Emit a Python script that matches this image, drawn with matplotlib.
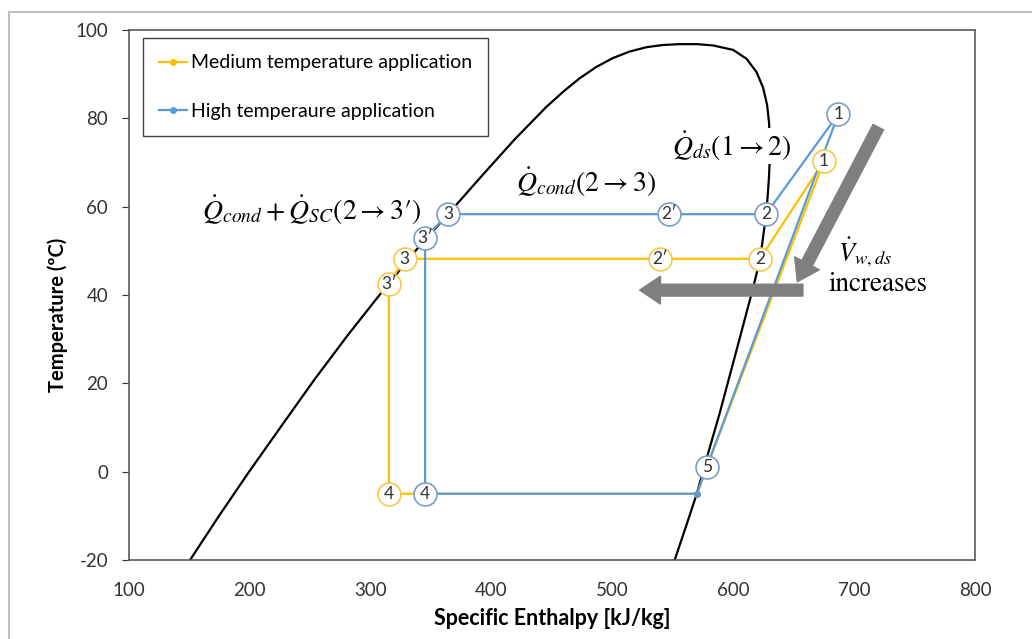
import matplotlib
matplotlib.use('Agg')
import matplotlib.pyplot as plt
from matplotlib.patches import FancyArrowPatch, Rectangle

plt.rcParams['font.family'] = ['Lato', 'DejaVu Sans']
plt.rcParams['mathtext.fontset'] = 'stix'
plt.rcParams['axes.unicode_minus'] = False

# saturation dome
dome_h = [150.5, 174.5, 199.4, 226, 253.3, 281, 309, 337, 364, 392, 419, 445,
          460, 473, 486.5, 500, 514, 528, 541.6, 555.7, 570, 583.3, 599.8, 610.9,
          619.2, 624.7, 628, 629.6, 630.2, 630.2, 629.5, 628.2, 626.3, 623.8, 620.3, 616,
          602.5, 588.8, 579, 569.8, 560.5, 551.5]
dome_T = [-20, -10, 0, 10.3, 20.8, 30.9, 40.6, 50.0, 58.3, 67.0, 75.2, 82.5,
          86.2, 89.1, 91.6, 93.6, 95.1, 96.1, 96.6, 96.8, 96.8, 96.5, 95.5, 93.5,
          90.5, 86.9, 83.0, 79, 75, 71, 66.5, 61.5, 56.5, 51.3, 46, 41.2,
          27.3, 13.3, 4, -5, -12.7, -20]

# cycle points: 1, 2, 2', 3, 3', 4, evaporator exit, 5, back to 1
h_high = [687, 627, 547, 364, 345, 345, 570, 578, 687]
T_high = [81, 58.3, 58.3, 58.3, 52.9, -5, -5, 1, 81]
lab_high = ['1', '2', '2′', '3', '3′', '4', '', '5', '']

h_med = [675, 622, 539, 328, 315, 315, 570, 578, 675]
T_med = [70.3, 48.2, 48.2, 48.2, 42.5, -5, -5, 1, 70.3]
lab_med = ['1', '2', '2′', '3', '3′', '4', '', '', '']

c_med = '#FFC000'
c_high = '#5B9BD5'

fig = plt.figure(figsize=(10.32, 6.39), dpi=100)
ax = fig.add_axes([129/1032, 1-560/639, 846/1032, 530/639])

ax.plot(dome_h, dome_T, color='black', lw=1.6, zorder=2, solid_joinstyle='round')

ax.plot(h_med, T_med, color=c_med, lw=1.6, marker='o', ms=4,
        label='Medium temperature application', zorder=3)
ax.plot(h_high, T_high, color=c_high, lw=1.6, marker='o', ms=4,
        label='High temperaure application', zorder=4)

# numbered circles
for hs, Ts, labs, ec in [(h_med, T_med, lab_med, '#F7C948'), (h_high, T_high, lab_high, '#7F9DC4')]:
    for h, T, s in zip(hs, Ts, labs):
        if s == '':
            continue
        ax.plot(h, T, marker='o', ms=16.5, mfc='white', mec=ec, mew=1.2, zorder=6)
        ax.text(h, T, s, ha='center', va='center', fontsize=12.5, color='#333333', zorder=7)

# annotations
ax.text(598.8, 73.7, r'$\dot{Q}_{ds}(1 \rightarrow 2)$', fontsize=20, ha='center', va='center',
        bbox=dict(facecolor='white', edgecolor='none', pad=1), zorder=5)
ax.text(477.8, 65.4, r'$\dot{Q}_{cond}(2 \rightarrow 3)$', fontsize=20, ha='center', va='center')
ax.text(250.8, 59.2, r'$\dot{Q}_{cond} + \dot{Q}_{SC}(2 \rightarrow 3\prime)$', fontsize=20,
        ha='center', va='center')
ax.text(709, 49.6, r'$\dot{V}_{w,ds}$', fontsize=19, ha='center', va='center')
ax.text(719.7, 42.5, 'increases', fontsize=19.5, ha='center', va='center', family='STIXGeneral')

style = 'simple,tail_width=0.85,head_width=2.0,head_length=1.5'
ax.add_patch(FancyArrowPatch((720, 78), (653, 43), arrowstyle=style, mutation_scale=10,
                             color='#7F7F7F', shrinkA=0, shrinkB=0, zorder=5))
ax.add_patch(FancyArrowPatch((657.6, 41.1), (522.5, 41.1), arrowstyle=style, mutation_scale=10,
                             color='#7F7F7F', shrinkA=0, shrinkB=0, zorder=5))

ax.set_xlim(100, 800)
ax.set_ylim(-20, 100)
ax.set_xticks(range(100, 801, 100))
ax.set_yticks(range(-20, 101, 20))
ax.tick_params(axis='both', labelsize=13.5, colors='#333333')
ax.tick_params(axis='y', length=5, pad=10)
ax.tick_params(axis='x', length=0, pad=16)
for sp in ax.spines.values():
    sp.set_color('#595959')
    sp.set_linewidth(1.2)

ax.set_xlabel('Specific Enthalpy [kJ/kg]', fontsize=15.5, fontweight='bold', labelpad=6)
ax.set_ylabel('Temperature (ºC)', fontsize=14.5, fontweight='bold')
ax.yaxis.set_label_coords(-0.072, 0.462)

leg = ax.legend(loc='upper left', bbox_to_anchor=(0.0165, 0.985), borderaxespad=0,
                fontsize=14, handlelength=1.4, handletextpad=0.2, labelspacing=1.6,
                borderpad=0.85, fancybox=False, framealpha=1)
leg.get_frame().set_edgecolor('#404040')
leg.get_frame().set_linewidth(1.0)

fig.patches.append(Rectangle((9/1032, -0.1), 1.2, 1.1 - 12/639, transform=fig.transFigure,
                             fill=False, edgecolor='#BFBFBF', lw=1.5))

fig.savefig('out.png', dpi=100)
